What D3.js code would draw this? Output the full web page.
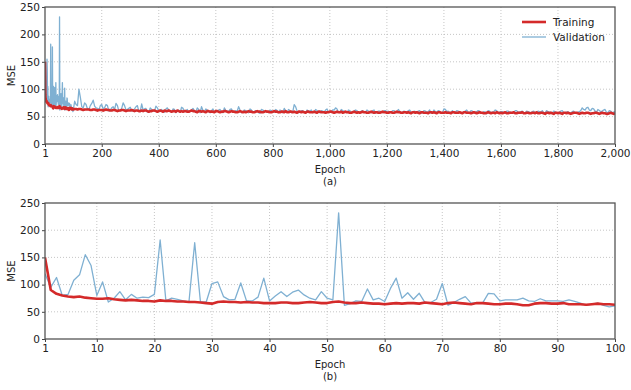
<!DOCTYPE html>
<html>
<head>
<meta charset="utf-8">
<script src="https://cdn.jsdelivr.net/npm/d3@7"></script>
<style>
  body { margin: 0; background: #fff; }
  text { font-family: "DejaVu Sans", sans-serif; fill: #222; }
</style>
</head>
<body>
<div id="chart"></div>
<script>
// first 100 epochs (also the start of the full run)
const valFirst100 = [120, 95, 113, 80, 82, 108, 118, 155, 135, 80,
    105, 68, 75, 87, 72, 82, 75, 77, 76, 82,
    182, 70, 75, 73, 70, 68, 177, 68, 68, 102,
    105, 78, 72, 73, 103, 70, 70, 77, 112, 70,
    79, 87, 78, 86, 90, 81, 75, 72, 87, 75,
    72, 232, 62, 65, 70, 69, 92, 72, 75, 69,
    93, 112, 75, 85, 73, 84, 67, 67, 73, 102,
    62, 67, 73, 78, 66, 67, 66, 84, 83, 70,
    72, 72, 72, 75, 70, 69, 74, 70, 70, 70,
    69, 72, 69, 66, 62, 64, 66, 62, 59, 61];
const trainFirst100 = [150, 90, 83, 80, 78, 77, 78, 76, 75, 74,
    74, 75, 73, 72, 71, 72, 71, 70, 70, 69,
    71, 70, 70, 69, 69, 68, 68, 67, 66, 65,
    68, 69, 68, 68, 67, 68, 67, 67, 66, 66,
    66, 67, 67, 66, 66, 67, 68, 67, 66, 66,
    68, 69, 67, 66, 66, 67, 66, 65, 65, 64,
    65, 66, 65, 66, 66, 65, 67, 66, 65, 64,
    66, 67, 66, 65, 64, 66, 66, 65, 64, 64,
    65, 65, 64, 62, 62, 65, 66, 66, 65, 65,
    66, 64, 64, 64, 63, 64, 65, 64, 64, 63];

// epochs 110..2000, read every 10 epochs
const trainLater = [64,64,63,63,63,62,63,62,62,62,
    62,62,61,62,61,61,62,61,61,61,
    61,61,60,61,61,60,60,61,60,60,
    60,61,60,60,60,59,60,60,60,59,
    60,60,59,60,59,59,60,59,59,60,
    59,59,60,59,59,59,58,59,59,59,
    59,59,58,59,59,58,59,59,58,59,
    59,58,59,58,58,59,58,58,59,58,
    58,59,58,58,58,59,58,58,58,59,
    58,58,58,59,58,58,57,58,58,58,
    58,58,57,58,58,58,57,58,58,57,
    58,57,58,58,57,58,57,57,58,57,
    57,58,57,57,58,57,57,58,57,57,
    57,57,58,57,57,57,58,57,57,57,
    57,57,57,56,57,57,57,56,57,57,
    57,56,57,57,56,57,57,56,57,56,
    57,56,56,57,56,57,56,56,57,56,
    56,57,56,56,56,57,56,56,56,57,
    56,56,57,56,56,56,55,56,56,56];
const valLater = [72,100,68,75,64,70,80,66,62,72,
    66,70,62,68,74,60,65,70,63,67,
    62,68,60,73,64,58,66,61,69,60,
    63,58,66,60,64,57,62,67,59,63,
    60,65,58,63,68,59,62,57,64,60,
    62,58,66,60,63,59,61,68,57,62,
    59,64,58,61,57,63,60,58,62,59,
    63,57,60,65,58,61,59,68,57,61,
    58,62,60,57,63,59,61,58,64,60,
    62,66,58,63,60,57,61,59,62,58,
    60,57,62,59,61,56,60,58,61,59,
    57,61,59,63,57,60,58,62,57,59,
    60,56,61,58,62,57,59,61,56,64,
    59,57,61,58,60,56,59,62,57,60,
    58,61,57,59,55,60,58,62,57,59,
    57,60,58,56,61,58,59,57,60,58,
    59,56,60,58,57,61,58,56,59,57,
    60,57,58,56,59,57,58,61,63,66,
    62,65,60,63,59,62,58,61,57,59];

// epochs 105..1995, the readings in between
const trainMid = [64,63,64,62,63,63,62,63,61,62,
    61,63,62,61,62,60,61,62,60,61,
    62,60,61,60,60,61,59,60,61,59,
    61,59,60,61,59,60,61,59,59,60,
    59,61,60,58,60,60,58,60,59,58,
    60,58,59,60,58,60,59,58,60,58,
    58,60,59,58,60,59,58,60,59,58,
    60,59,58,59,60,58,59,59,57,59,
    59,57,59,58,59,57,59,58,57,58,
    59,57,59,58,57,59,58,57,59,57,
    57,59,58,57,59,57,58,57,59,58,
    57,58,57,59,58,57,58,58,56,58,
    58,56,58,57,56,58,58,56,58,57,
    58,57,56,58,57,58,56,58,57,56,
    58,56,58,57,56,58,56,57,58,56,
    56,58,56,57,58,56,57,58,56,57,
    56,57,58,56,57,55,57,57,55,57,
    57,55,57,57,55,57,57,55,57,56,
    57,55,56,57,55,57,56,55,57,55];
const valMid = [78,70,85,66,72,63,74,69,65,70,
    64,72,60,66,63,70,61,75,62,65,
    60,64,70,59,62,65,58,63,60,66,
    61,59,64,62,58,63,60,58,65,61,
    58,62,60,66,57,61,64,59,61,58,
    60,63,57,61,59,64,58,60,62,59,
    61,57,62,59,60,56,62,59,57,61,
    58,61,62,57,60,63,57,72,60,58,
    61,57,60,62,58,61,57,60,62,58,
    59,62,64,57,61,59,62,57,60,61,
    57,61,58,60,57,62,58,60,57,61,
    60,58,61,57,60,58,59,61,58,60,
    58,61,57,60,59,56,62,58,60,57,
    63,60,58,57,61,59,57,60,58,61,
    57,59,60,56,58,61,57,59,61,58,
    59,56,60,58,57,61,58,60,56,59,
    57,60,57,59,61,57,59,58,60,57,
    58,61,57,59,57,60,57,59,66,62,
    67,61,64,58,61,60,63,57,60,58];

const yTicks = [0, 50, 100, 150, 200, 250];
const xTicksTop = [1, 200, 400, 600, 800, 1000, 1200, 1400, 1600, 1800, 2000];
const xTicksBottom = [1, 10, 20, 30, 40, 50, 60, 70, 80, 90, 100];
const seriesNames = ["Training", "Validation"];
const colors = {Training: "#d42a2a", Validation: "#7fb0d2"};

const W = 631, H = 390;
const svg = d3.select("#chart").append("svg").attr("width", W).attr("height", H);

function toPoints(ys, startEpoch, step) {
    return ys.map((v, i) => ({e: startEpoch + i * step, v: v}));
}

const firstEpochs = (arr) => toPoints(arr, 1, 1);
function fullRun(first, later, mid) {
    return firstEpochs(first)
        .concat(toPoints(later, 110, 10), toPoints(mid, 105, 10))
        .sort((a, b) => a.e - b.e);
}
const fullTrain = fullRun(trainFirst100, trainLater, trainMid);
const fullVal = fullRun(valFirst100, valLater, valMid);

function drawPanel(opts) {
    const g = svg.append("g");
    const x = d3.scaleLinear().domain(opts.xDomain).range([45, 615]);
    const y = d3.scaleLinear().domain([0, 250]).range([opts.bottom, opts.top]);

    // grid
    g.selectAll(".gy").data(yTicks.slice(1, -1)).enter().append("line")
        .attr("x1", 45).attr("x2", 615)
        .attr("y1", d => y(d)).attr("y2", d => y(d))
        .attr("stroke", "#b8b8b8").attr("stroke-width", 0.8)
        .attr("stroke-dasharray", "1,2");
    g.selectAll(".gx").data(opts.xTicks.slice(1, -1)).enter().append("line")
        .attr("x1", d => x(d)).attr("x2", d => x(d))
        .attr("y1", opts.top).attr("y2", opts.bottom)
        .attr("stroke", "#b8b8b8").attr("stroke-width", 0.8)
        .attr("stroke-dasharray", "1,2");

    const clipId = "clip" + opts.name;
    svg.append("clipPath").attr("id", clipId).append("rect")
        .attr("x", 45).attr("y", opts.top)
        .attr("width", 570).attr("height", opts.bottom - opts.top);

    const line = d3.line().x(d => x(d.e)).y(d => y(d.v));
    const lines = g.append("g").attr("clip-path", `url(#${clipId})`);
    lines.append("path").datum(opts.val)
        .attr("fill", "none").attr("stroke", colors.Validation)
        .attr("stroke-width", 1.3).attr("stroke-linejoin", "round")
        .attr("d", line);
    lines.append("path").datum(opts.train)
        .attr("fill", "none").attr("stroke", colors.Training)
        .attr("stroke-width", 2.6).attr("stroke-linejoin", "round")
        .attr("d", line);

    // axes
    const yAxis = d3.axisLeft(y).tickValues(yTicks).tickSize(3).tickPadding(2);
    const xAxis = d3.axisBottom(x).tickValues(opts.xTicks).tickSize(3).tickPadding(3)
        .tickFormat(d3.format(","));
    const ya = g.append("g").attr("transform", "translate(45,0)").call(yAxis);
    const xa = g.append("g").attr("transform", `translate(0,${opts.bottom})`).call(xAxis);
    [ya, xa].forEach(a => {
        a.select(".domain").remove();
        a.selectAll("line").attr("stroke", "#444");
        a.selectAll("text").attr("font-size", 10.5).attr("fill", "#222")
            .attr("font-family", "DejaVu Sans, sans-serif");
    });

    g.append("rect")
        .attr("x", 45).attr("y", opts.top)
        .attr("width", 570).attr("height", opts.bottom - opts.top)
        .attr("fill", "none").attr("stroke", "#555").attr("stroke-width", 1.3);

    g.append("text")
        .attr("transform", `translate(15,${(opts.top + opts.bottom) / 2}) rotate(-90)`)
        .attr("text-anchor", "middle").attr("font-size", 10)
        .text("MSE");
    g.append("text")
        .attr("x", 330).attr("y", opts.bottom + 29)
        .attr("text-anchor", "middle").attr("font-size", 10)
        .text("Epoch");
    g.append("text")
        .attr("x", 330).attr("y", opts.bottom + 41)
        .attr("text-anchor", "middle").attr("font-size", 10)
        .text(opts.label);
}

drawPanel({name: "a", xDomain: [1, 2000], xTicks: xTicksTop, top: 7, bottom: 144,
    train: fullTrain, val: fullVal, label: "(a)"});
drawPanel({name: "b", xDomain: [1, 100], xTicks: xTicksBottom, top: 203, bottom: 339,
    train: firstEpochs(trainFirst100), val: firstEpochs(valFirst100), label: "(b)"});

// legend
const legend = svg.append("g").attr("transform", "translate(522,22)");
seriesNames.forEach((name, i) => {
    legend.append("line")
        .attr("x1", 0).attr("x2", 24)
        .attr("y1", i * 15).attr("y2", i * 15)
        .attr("stroke", colors[name])
        .attr("stroke-width", name === "Training" ? 2.6 : 1.3);
    legend.append("text")
        .attr("x", 31).attr("y", i * 15 + 3.5)
        .attr("font-size", 10.5)
        .text(name);
});
</script>
</body>
</html>
